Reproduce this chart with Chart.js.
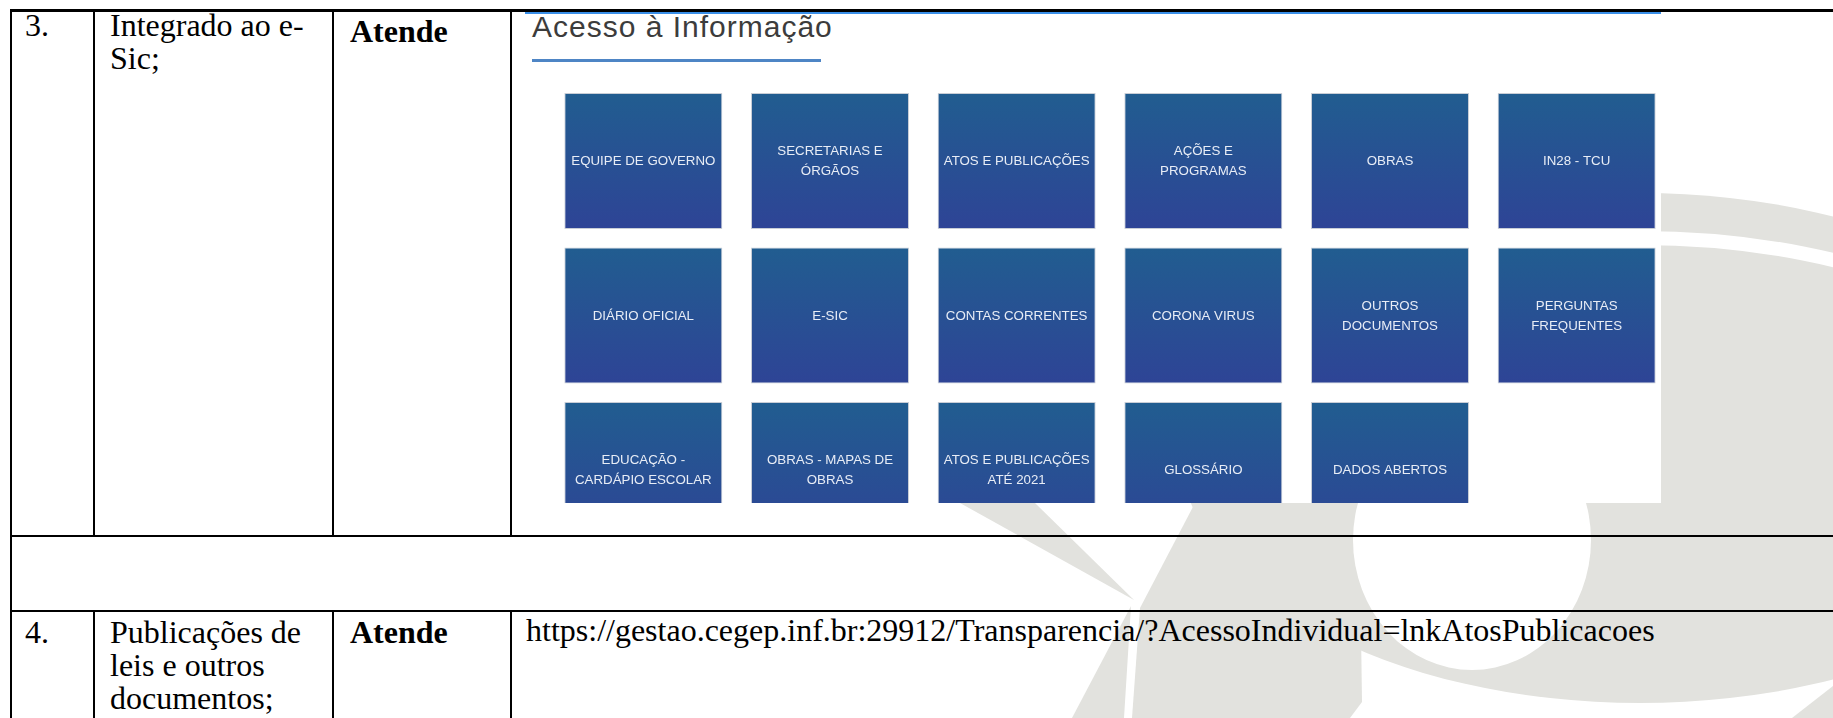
<!DOCTYPE html>
<html>
<head>
<meta charset="utf-8">
<script src="https://cdn.jsdelivr.net/npm/chart.js@4.4.1/dist/chart.umd.min.js"></script>
<style>
  html, body { margin: 0; padding: 0; background: #fff; }
  body { width: 1833px; height: 718px; position: relative; overflow: hidden;
         font-family: "Liberation Serif", "Times New Roman", serif; }
  .abs { position: absolute; }
  .hl { position: absolute; background: #000; height: 2px; }
  .vl { position: absolute; background: #000; width: 2px; }
  .cell { position: absolute; font-size: 32px; line-height: 33px; color: #000; white-space: nowrap; }
  .b { font-weight: bold; }
  #panel { left: 513px; top: 12px; width: 1148px; height: 491px; background: #fff; }
  #topline { left: 525px; top: 12px; width: 1136px; height: 2px; background: #3a8fe8; }
  #title { left: 532px; top: 10px; font-family: "Liberation Sans", Arial, sans-serif; font-size: 30px;
           line-height: 34px; letter-spacing: 1px; color: #3c3c3c; white-space: nowrap; }
  #underline { left: 532px; top: 59px; width: 289px; height: 3px; background: #4e85c5; }
  #tiles { left: 550px; top: 13px; }
</style>
</head>
<body>

<!-- marca d'agua ao fundo -->
<svg class="abs" style="left:0;top:0" width="1833" height="718">
  <defs><clipPath id="cr"><rect x="1600" y="0" width="233" height="400"/></clipPath></defs>
  <g fill="#e2e2de">
    <ellipse cx="1640" cy="448" rx="460" ry="255"/>
    <polygon points="1195,503 1140,608 1132,718 1350,718 1362,702 1360,560 1300,503"/>
    <polygon points="960,503 1035,503 1134,600"/>
    <polygon points="1131,606 1124,718 1072,718"/>
    <polygon points="1792,718 1833,686 1833,718"/>
  </g>
  <ellipse cx="1472" cy="540" rx="119" ry="130" fill="#fff"/>
  <ellipse cx="1640" cy="460" rx="445" ry="222" fill="none" stroke="#fff" stroke-width="14" clip-path="url(#cr)"/>
</svg>

<div id="panel" class="abs"></div>
<div id="title" class="abs">Acesso à Informação</div>
<div id="underline" class="abs"></div>
<canvas id="tiles" class="abs" width="1120" height="490"></canvas>

<!-- linhas da tabela -->
<div class="hl" style="left:10px;top:9px;width:1823px;height:3px"></div>
<div id="topline" class="abs"></div>
<div class="hl" style="left:10px;top:535px;width:1823px"></div>
<div class="hl" style="left:10px;top:610px;width:1823px"></div>
<div class="vl" style="left:10px;top:9px;height:709px"></div>
<div class="vl" style="left:93px;top:9px;height:527px"></div>
<div class="vl" style="left:332px;top:9px;height:527px"></div>
<div class="vl" style="left:510px;top:9px;height:527px"></div>
<div class="vl" style="left:93px;top:611px;height:107px"></div>
<div class="vl" style="left:332px;top:611px;height:107px"></div>
<div class="vl" style="left:510px;top:611px;height:107px"></div>

<div class="cell" style="left:25px;top:9px">3.</div>
<div class="cell" style="left:110px;top:9px">Integrado ao e-<br>Sic;</div>
<div class="cell b" style="left:350px;top:15px">Atende</div>

<div class="cell" style="left:25px;top:616px">4.</div>
<div class="cell" style="left:110px;top:616px">Publicações de<br>leis e outros<br>documentos;</div>
<div class="cell b" style="left:350px;top:616px">Atende</div>
<div class="cell" style="left:526px;top:614px">https://gestao.cegep.inf.br:29912/Transparencia/?AcessoIndividual=lnkAtosPublicacoes</div>

<script>
// colunas da grade e os botoes de cada linha
const gridColumns = ['c1', 'c2', 'c3', 'c4', 'c5', 'c6'];
const rowTop = ['EQUIPE DE GOVERNO', 'SECRETARIAS E\nÓRGÃOS', 'ATOS E PUBLICAÇÕES', 'AÇÕES E\nPROGRAMAS', 'OBRAS', 'IN28 - TCU'];
const rowMiddle = ['DIÁRIO OFICIAL', 'E-SIC', 'CONTAS CORRENTES', 'CORONA VIRUS', 'OUTROS\nDOCUMENTOS', 'PERGUNTAS\nFREQUENTES'];
const rowBottom = ['EDUCAÇÃO -\nCARDÁPIO ESCOLAR', 'OBRAS - MAPAS DE\nOBRAS', 'ATOS E PUBLICAÇÕES\nATÉ 2021', 'GLOSSÁRIO', 'DADOS ABERTOS'];
const tileRows = [rowTop, rowMiddle, rowBottom];

const TILE_H = 0.88; // altura do botao em relacao ao passo da linha

function tileGradient(context) {
  const chart = context.chart;
  const y = chart.scales.y;
  if (!y || context.datasetIndex === undefined) return '#27508f';
  const r = context.datasetIndex;
  const y0 = y.getPixelForValue(r);
  const y1 = y.getPixelForValue(r + TILE_H);
  if (!isFinite(y0) || !isFinite(y1)) return '#27508f';
  const g = chart.ctx.createLinearGradient(0, y0, 0, y1);
  g.addColorStop(0, '#215d90');
  g.addColorStop(1, '#2e4496');
  return g;
}

// escreve o texto dentro de cada botao
const tileText = {
  id: 'tileText',
  afterDatasetsDraw(chart) {
    const ctx = chart.ctx;
    const y = chart.scales.y;
    ctx.save();
    ctx.font = '13.3px "Liberation Sans", Arial, sans-serif';
    ctx.fillStyle = '#e8edf6';
    ctx.textAlign = 'center';
    ctx.textBaseline = 'alphabetic';
    chart.data.datasets.forEach(function(ds, r) {
      const meta = chart.getDatasetMeta(r);
      const c = (y.getPixelForValue(r) + y.getPixelForValue(r + TILE_H)) / 2;
      meta.data.forEach(function(bar, j) {
        const label = tileRows[r][j];
        if (!label) return;
        const lines = label.split('\n');
        const start = c + 4.5 - (lines.length - 1) * 10;
        lines.forEach(function(line, k) {
          ctx.fillText(line, bar.x, start + k * 20);
        });
      });
    });
    ctx.restore();
  }
};

const datasets = tileRows.map(function(labels, r) {
  return {
    label: 'linha ' + (r + 1),
    data: gridColumns.map(function(col, c) { return labels[c] ? [r, r + TILE_H] : null; }),
    grouped: false,
    categoryPercentage: 1,
    barPercentage: 0.8464,
    backgroundColor: tileGradient,
    borderColor: '#c8cdd6',
    borderWidth: 1,
    borderSkipped: false,
    clip: 0
  };
});

new Chart(document.getElementById('tiles').getContext('2d'), {
  type: 'bar',
  data: { labels: gridColumns, datasets: datasets },
  options: {
    responsive: false,
    animation: false,
    events: [],
    layout: { padding: 0 },
    plugins: { legend: { display: false }, tooltip: { enabled: false } },
    scales: {
      x: { display: false },
      y: { display: false, reverse: true, min: -0.5178, max: 2.6537 }
    }
  },
  plugins: [tileText]
});
</script>
</body>
</html>
